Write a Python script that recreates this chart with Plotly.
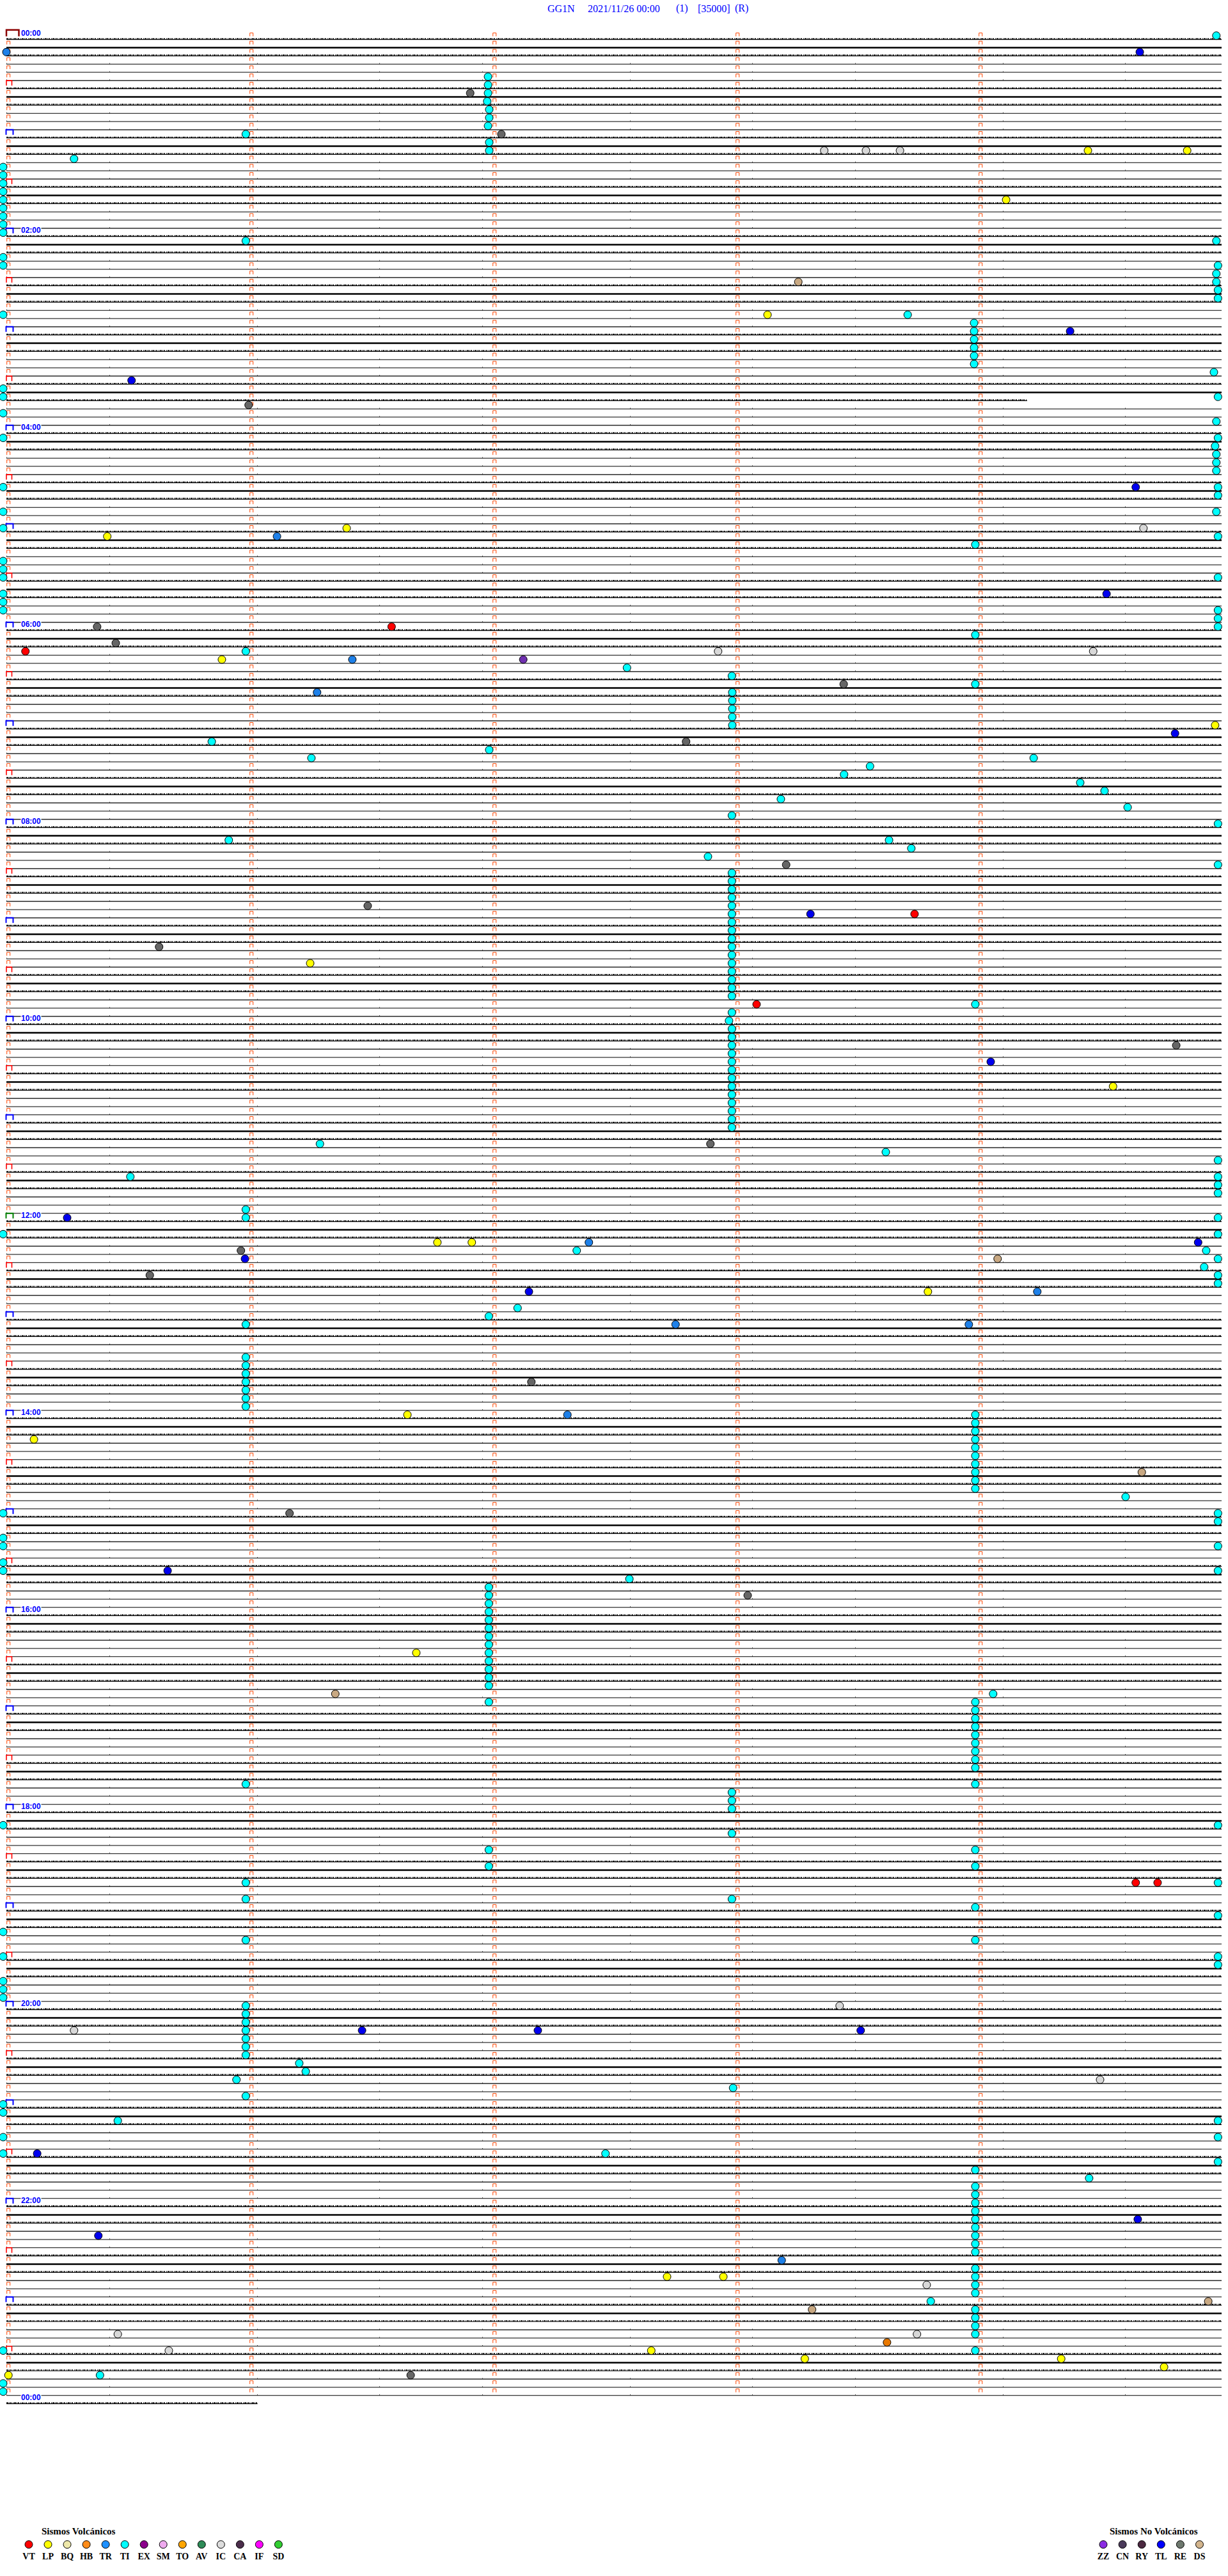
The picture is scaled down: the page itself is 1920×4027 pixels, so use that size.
import plotly.graph_objects as go

# ---------------- data ----------------
station = "GG1N"
date_label = "2021/11/26 00:00"
title_extra = ["(1)", "[35000]", "(R)"]

n_rows = 289                 # 5-minute rows 00:00 .. 24:00 (last row partial)
row_seconds = 300
row_end_sec = {44: 252.0, 288: 62.0}   # rows whose trace stops early
label_hours = [0, 2, 4, 6, 8, 10, 12, 14, 16, 18, 20, 22, 24]

volc_names = ["VT", "LP", "BQ", "HB", "TR", "TI", "EX", "SM", "TO", "AV", "IC", "CA", "IF", "SD"]
volc_colors = ["#FF0000", "#FFFF00", "#EEE8AA", "#FF8C1A", "#1E90FF", "#00FFFF", "#8B008B",
               "#EEAAEE", "#FFA500", "#2E8B57", "#DCDCDC", "#4B2D4B", "#FF00FF", "#32CD32"]
novolc_names = ["ZZ", "CN", "RY", "TL", "RE", "DS"]
novolc_colors = ["#8A2BE2", "#4A3A5A", "#4B2840", "#0000FF", "#6E786E", "#D2B48C"]

# events: (row, seconds into the 5-minute row)
TI = [(0, 298.7), (5, 118.9), (6, 118.9), (7, 118.9), (8, 118.7), (9, 119.2), (10, 119.2),
      (11, 118.9), (12, 59.1), (13, 119.2), (14, 119.2), (15, 16.7),
      (16, -0.8), (17, -0.8), (18, -0.8), (19, -0.8), (20, -0.8), (21, -0.8), (22, -0.8),
      (23, -0.8), (24, -0.8), (25, 59.1), (25, 298.7), (27, -0.8), (28, -0.8),
      (28, 299.1), (29, 298.7), (30, 298.7), (31, 299.1), (32, 299.1), (34, -0.8), (34, 222.5),
      (35, 238.9), (36, 238.9), (37, 238.9), (38, 238.9), (39, 238.9), (40, 238.9),
      (41, 298.1), (43, -0.8), (44, -0.8), (44, 299.1), (46, -0.8), (47, 298.7),
      (49, -0.8), (55, -0.8), (58, -0.8), (60, -0.8), (64, -0.8), (65, -0.8), (66, -0.8),
      (68, -0.8), (69, -0.8), (70, -0.8),
      (49, 299.1), (50, 298.4), (51, 298.7), (52, 298.7), (53, 298.7), (55, 299.1), (56, 299.1),
      (58, 298.7), (61, 299.1), (66, 299.1), (70, 299.1), (71, 299.1), (72, 299.1),
      (62, 239.2), (73, 239.2), (75, 59.1), (77, 153.2), (78, 179.1), (79, 239.2),
      (80, 179.2), (81, 179.2), (82, 179.2), (83, 179.2), (84, 179.2),
      (86, 50.7), (87, 119.2), (88, 75.3), (88, 253.6), (89, 213.2), (90, 206.8), (91, 265.1),
      (92, 271.1), (93, 191.2), (94, 276.8), (95, 179.1), (96, 299.1), (98, 54.9), (98, 217.9),
      (99, 223.4), (100, 173.2), (101, 299.1),
      (102, 179.1), (103, 179.1), (104, 179.1), (105, 179.1), (106, 179.1), (107, 179.1),
      (108, 179.1), (109, 179.1), (110, 179.1), (111, 179.1), (112, 179.1), (113, 179.1),
      (114, 179.1), (115, 179.1), (116, 179.1), (117, 179.1), (118, 239.2),
      (119, 179.1), (120, 178.4), (121, 179.1), (122, 179.1), (123, 179.1), (124, 179.1),
      (125, 179.1), (126, 179.1), (127, 179.1), (128, 179.1), (129, 179.1), (130, 179.1),
      (131, 179.1), (132, 179.1), (133, 179.1),
      (135, 77.4), (136, 217.1), (137, 299.1), (139, 30.6), (139, 299.1), (140, 299.1),
      (141, 299.1), (143, 59.1), (144, 59.1), (144, 299.1), (146, -0.8), (146, 299.1),
      (148, 140.8), (148, 296.2), (149, 299.1), (150, 295.7), (151, 299.1), (152, 299.1),
      (155, 126.2), (156, 119.1), (157, 59.1),
      (161, 59.1), (162, 59.1), (163, 59.1), (164, 59.1), (165, 59.1), (166, 59.1), (167, 59.1),
      (168, 239.2), (169, 239.2), (170, 239.2), (171, 239.2), (172, 239.2), (173, 239.2),
      (174, 239.2), (175, 239.2), (176, 239.2), (177, 239.2), (178, 276.3),
      (180, -0.8), (180, 299.1), (181, 299.1), (183, -0.8), (184, -0.8), (184, 299.1),
      (186, -0.8), (187, -0.8), (187, 299.1), (188, 153.8),
      (189, 119.1), (190, 119.1), (191, 119.1), (192, 119.1), (193, 119.1), (194, 119.1),
      (195, 119.1), (196, 119.1), (197, 119.1), (198, 119.1), (199, 119.1), (200, 119.1),
      (201, 119.1), (202, 243.6), (203, 119.1),
      (203, 239.2), (204, 239.2), (205, 239.2), (206, 239.2), (207, 239.2), (208, 239.2),
      (209, 239.2), (210, 239.2), (211, 239.2),
      (213, 59.1), (213, 239.2), (214, 179.1), (215, 179.1), (216, 179.1), (218, -0.8),
      (218, 299.1), (219, 179.1), (221, 119.1), (221, 239.2), (223, 119.1), (223, 239.2),
      (225, 59.1), (225, 299.1), (227, 59.1), (227, 179.1), (228, 239.2), (229, 299.1),
      (231, -0.8), (232, 59.1), (232, 239.2), (234, -0.8), (234, 299.1), (235, 299.1),
      (237, -0.8), (238, -0.8), (239, -0.8),
      (240, 59.1), (241, 59.1), (242, 59.1), (243, 59.1), (244, 59.1), (245, 59.1), (246, 59.1),
      (247, 72.3), (248, 73.9), (249, 56.8), (250, 179.4), (251, 59.1), (252, -0.8), (253, -0.8),
      (254, 27.5), (254, 299.1), (256, -0.8), (256, 299.1), (258, -0.8), (258, 147.9),
      (259, 299.1), (260, 239.2), (261, 267.3),
      (262, 239.2), (263, 239.2), (264, 239.2), (265, 239.2), (266, 239.2), (267, 239.2),
      (268, 239.2), (269, 239.2), (270, 239.2),
      (272, 239.2), (273, 239.2), (274, 239.2), (275, 239.2), (276, 228.2),
      (277, 239.2), (278, 239.2), (279, 239.2), (280, 239.2), (282, -0.8), (282, 239.2),
      (285, 23.1), (286, -0.8), (287, -0.8)]
TL = [(2, 279.8), (36, 262.6), (42, 30.9), (55, 278.8), (68, 271.6), (85, 288.5), (107, 198.5),
      (125, 243.0), (144, 15.0), (147, 294.2), (149, 58.9), (153, 129.0), (187, 39.8),
      (243, 87.8), (243, 131.2), (243, 210.9), (258, 7.6), (266, 279.3), (268, 22.7)]
TR = [(2, 0.0), (61, 66.8), (76, 85.4), (80, 76.7), (147, 143.8), (153, 254.5), (157, 165.2),
      (157, 237.6), (168, 138.5), (271, 191.4)]
LP = [(14, 267.0), (14, 291.5), (20, 246.8), (34, 187.9), (60, 84.0), (61, 24.9), (76, 53.2),
      (84, 298.4), (113, 75.0), (128, 273.2), (147, 106.4), (147, 114.9), (153, 227.5),
      (168, 99.0), (171, 6.8), (197, 101.2), (273, 163.1), (273, 177.0), (282, 159.2),
      (283, 197.1), (283, 260.4), (284, 285.8), (285, 0.5)]
IC = [(14, 201.9), (14, 212.2), (14, 220.6), (60, 280.7), (75, 175.7), (75, 268.3), (240, 205.7),
      (243, 16.7), (249, 270.0), (274, 227.2), (280, 27.5), (280, 224.8), (282, 40.1)]
VT = [(72, 95.1), (75, 4.7), (107, 224.2), (118, 185.2), (225, 278.8), (225, 284.2)]
RE = [(7, 114.5), (12, 122.2), (45, 59.8), (72, 22.4), (74, 27.0), (79, 206.7), (86, 167.8),
      (101, 192.5), (106, 89.2), (111, 37.7), (123, 288.8), (135, 173.8), (148, 57.9),
      (151, 35.4), (164, 129.6), (180, 69.9), (190, 183.0), (285, 99.8)]
DS = [(30, 195.5), (149, 244.7), (175, 280.3), (202, 81.2), (276, 296.7), (277, 198.9)]
ZZ = [(76, 127.6)]
HB = [(281, 217.4)]

events = [("TI", TI, "#00FFFF"), ("TL", TL, "#0000EE"), ("TR", TR, "#1E80E8"),
          ("LP", LP, "#FFFF00"), ("IC", IC, "#D8D8D8"), ("VT", VT, "#FF0000"),
          ("RE", RE, "#666666"), ("DS", DS, "#C8A882"), ("ZZ", ZZ, "#7030B0"),
          ("HB", HB, "#E87800")]

# ---------------- geometry (pixel <-> data) ----------------
W, H = 1920, 4027
PX_PER_SEC = 380.0 / 60.0
X0_PX = 10.0
Y0_PX = 61.7
ROW_PX = 12.833


def dx(px):
    return px / PX_PER_SEC


def dy(px):
    return px / ROW_PX


def xpx(px):
    return (px - X0_PX) / PX_PER_SEC


def ypx(py):
    return (py - Y0_PX) / ROW_PX


fig = go.Figure()


def rows_xy(rows, off=0.0):
    xs, ys = [], []
    for r in rows:
        end = row_end_sec.get(r, row_seconds)
        xs += [0, end, None]
        ys += [r + off, r + off, None]
    return xs, ys


thin = [r for r in range(n_rows) if r % 6 in (3, 4, 5)]
bold = [r for r in range(n_rows) if r % 6 == 1]
noisy = [r for r in range(n_rows) if r % 6 in (0, 2)]

x, y = rows_xy(thin)
fig.add_trace(go.Scatter(x=x, y=y, mode="lines", line=dict(color="black", width=1.1)))
x, y = rows_xy(bold)
fig.add_trace(go.Scatter(x=x, y=y, mode="lines", line=dict(color="black", width=2.6)))
x, y = rows_xy(noisy)
fig.add_trace(go.Scatter(x=x, y=y, mode="lines", line=dict(color="black", width=1.2)))
x, y = rows_xy(noisy, -dy(1.3))
fig.add_trace(go.Scatter(x=x, y=y, mode="lines",
                         line=dict(color="black", width=1.4, dash="3px,1px,1px,1px,2px,2px,1px,1px")))
thin_ticks_x, thin_ticks_y = rows_xy(thin, -dy(1.0))
fig.add_trace(go.Scatter(x=thin_ticks_x, y=thin_ticks_y, mode="lines",
                         line=dict(color="black", width=1, dash="1px,160px,1px,230px,1px,190px")))

# minute marks (small) and half-hour / hour marks (large) at the row start
mx, my = [], []
big = {"red": ([], []), "blue": ([], []), "green": ([], []), "dark": ([], [])}
for r in range(n_rows - 1):
    for k in range(5):
        if k == 0 and r % 6 == 0:
            if r % 288 == 0:
                key, x0, x1, top, bot = "dark", 0, dx(19.5), r - 1 - dy(2.2), r - 1 + dy(7.8)
            elif r == 144:
                key, x0, x1, top, bot = "green", -dx(0.5), dx(10.5), r - 1, r - 1 + dy(8)
            elif r % 12 == 0:
                key, x0, x1, top, bot = "blue", -dx(0.5), dx(10.5), r - 1, r - 1 + dy(8)
            else:
                key, x0, x1, top, bot = "red", 0, dx(8.5), r - 1, r - 1 + dy(8)
            bx, by = big[key]
            bx += [x0, x0, x1, x1, None]
            by += [bot, top, top, bot, None]
            continue
        x0 = 60 * k + dx(0.7)
        x1 = x0 + dx(5)
        yt, yb = r - dy(10.2), r - dy(5)
        mx += [x0, x0, x1, x1, None]
        my += [yb, yt, yt, yb, None]
fig.add_trace(go.Scatter(x=mx, y=my, mode="lines", line=dict(color="#FF4500", width=1)))
for key, col, wdt in [("red", "#FF0000", 1.6), ("blue", "#0000FF", 2), ("green", "#008000", 2),
                      ("dark", "#8B0000", 2.5)]:
    bx, by = big[key]
    fig.add_trace(go.Scatter(x=bx, y=by, mode="lines", line=dict(color=col, width=wdt)))

# event circles
for name, pts, col in events:
    fig.add_trace(go.Scatter(
        x=[p[1] for p in pts], y=[p[0] - dy(6) for p in pts], mode="markers",
        marker=dict(size=12, color=col, line=dict(color="black", width=1))))

# legend
lx = [xpx(45 + 30.03 * i) for i in range(len(volc_names))]
lx2 = [xpx(1725 + 30.1 * i) for i in range(len(novolc_names))]
fig.add_trace(go.Scatter(
    x=lx + lx2, y=[ypx(3977.7)] * (len(lx) + len(lx2)), mode="markers",
    marker=dict(size=12, color=volc_colors + novolc_colors, line=dict(color="black", width=1))))
fig.add_trace(go.Scatter(
    x=lx + lx2, y=[ypx(3997)] * (len(lx) + len(lx2)), mode="text",
    text=["<b>%s</b>" % t for t in volc_names + novolc_names],
    textfont=dict(family="Liberation Serif", size=14, color="black")))

ann = []
# title pieces
for txt, px in zip([station, date_label] + title_extra, [854, 917, 1055, 1089, 1147]):
    ann.append(dict(text=txt, x=px / W, y=1 - 13 / H, xref="paper", yref="paper",
                    xanchor="left", yanchor="middle", showarrow=False,
                    font=dict(family="Liberation Serif", size=16, color="#0000FF")))
# hour labels
for h in label_hours:
    r = h * 12 - 1
    ann.append(dict(text="<b>%02d:00</b>" % (h % 24), x=xpx(32), y=r + dy(3), xref="x", yref="y",
                    xanchor="left", yanchor="middle", showarrow=False, bgcolor="white",
                    borderpad=0,
                    font=dict(family="Liberation Sans", size=12, color="#0000FF")))
ann.append(dict(text="<b>Sismos Volcánicos</b>", x=63 / W, y=1 - 3957 / H, xref="paper",
                yref="paper", xanchor="left", yanchor="middle", showarrow=False,
                font=dict(family="Liberation Serif", size=15, color="black")))
ann.append(dict(text="<b>Sismos No Volcánicos</b>", x=1733 / W, y=1 - 3957 / H, xref="paper",
                yref="paper", xanchor="left", yanchor="middle", showarrow=False,
                font=dict(family="Liberation Serif", size=15, color="black")))

fig.update_layout(
    width=W, height=H, margin=dict(l=0, r=0, t=0, b=0, pad=0),
    paper_bgcolor="white", plot_bgcolor="white", showlegend=False, hovermode=False,
    xaxis=dict(range=[xpx(0), xpx(W)], visible=False, fixedrange=True),
    yaxis=dict(range=[ypx(H), ypx(0)], visible=False, fixedrange=True),
    annotations=ann,
)

fig.write_html("out.html", config={"displayModeBar": False, "staticPlot": True},
               post_script="document.body.style.margin='0';")
